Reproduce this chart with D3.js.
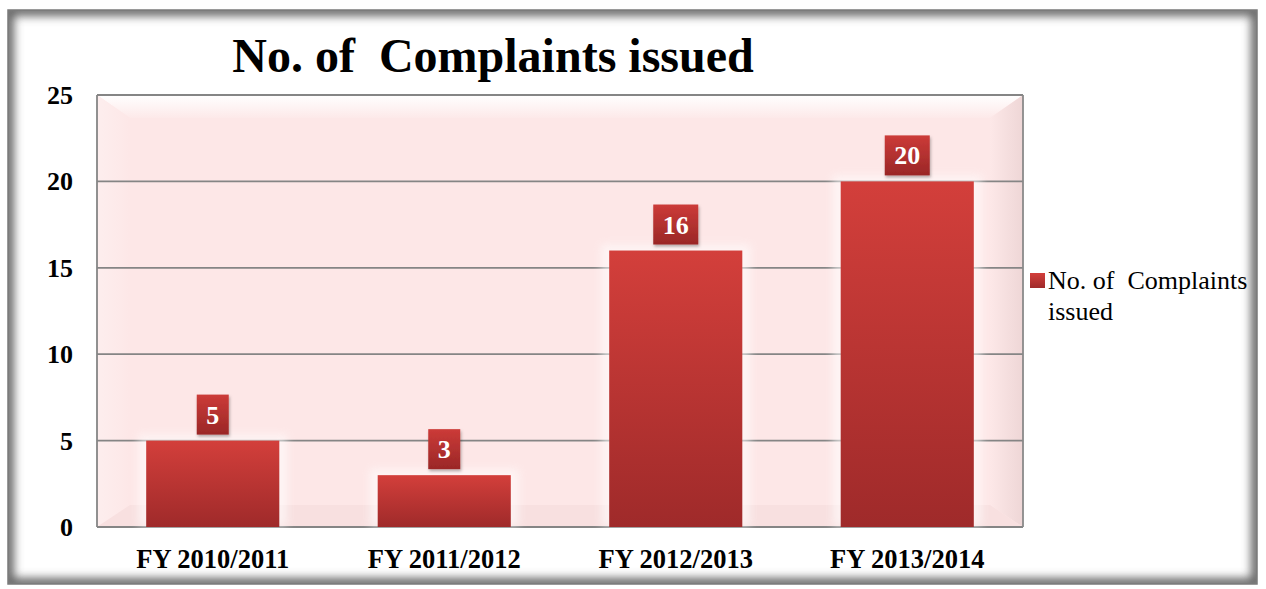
<!DOCTYPE html>
<html>
<head>
<meta charset="utf-8">
<script src="https://cdn.jsdelivr.net/npm/d3@7/dist/d3.min.js"></script>
<style>
  body { margin: 0; background: #fff; }
  svg { display: block; font-family: "Liberation Serif", "Times New Roman", serif; }
</style>
</head>
<body>
<svg id="chart" width="1266" height="589"></svg>
<script>
// data
var categories = ["FY 2010/2011", "FY 2011/2012", "FY 2012/2013", "FY 2013/2014"];
var complaints = [5, 3, 16, 20];
var yTicks = [0, 5, 10, 15, 20, 25];
var seriesName = "No. of  Complaints issued";

var svg = d3.select("#chart"),
    width = +svg.attr("width"),
    height = +svg.attr("height");

var plot = { left: 97, top: 95, right: 1023, bottom: 527 };
var frame = { x: 8, y: 10, w: 1249, h: 574 };

var defs = svg.append("defs");

// bar gradient
var barGrad = defs.append("linearGradient").attr("id", "barGrad")
  .attr("x1", 0).attr("y1", 0).attr("x2", 0).attr("y2", 1);
barGrad.append("stop").attr("offset", "0%").attr("stop-color", "#d33f3b");
barGrad.append("stop").attr("offset", "100%").attr("stop-color", "#9f2a2a");

var lblGrad = defs.append("linearGradient").attr("id", "lblGrad")
  .attr("x1", 0).attr("y1", 0).attr("x2", 0).attr("y2", 1);
lblGrad.append("stop").attr("offset", "0%").attr("stop-color", "#cc3b38");
lblGrad.append("stop").attr("offset", "100%").attr("stop-color", "#9a2727");

var topWall = defs.append("linearGradient").attr("id", "topWall")
  .attr("x1", 0).attr("y1", 0).attr("x2", 0).attr("y2", 1);
topWall.append("stop").attr("offset", "0%").attr("stop-color", "#ffffff");
topWall.append("stop").attr("offset", "100%").attr("stop-color", "#fde9e9");

var rightWall = defs.append("linearGradient").attr("id", "rightWall")
  .attr("x1", 0).attr("y1", 0).attr("x2", 1).attr("y2", 0);
rightWall.append("stop").attr("offset", "0%").attr("stop-color", "#fde8e8");
rightWall.append("stop").attr("offset", "100%").attr("stop-color", "#eed6d6");

var leftWall = defs.append("linearGradient").attr("id", "leftWall")
  .attr("x1", 0).attr("y1", 0).attr("x2", 1).attr("y2", 0);
leftWall.append("stop").attr("offset", "0%").attr("stop-color", "#fdeeee");
leftWall.append("stop").attr("offset", "100%").attr("stop-color", "#fde7e7");

defs.append("filter").attr("id", "blur")
  .attr("x", "-10%").attr("y", "-10%").attr("width", "120%").attr("height", "120%")
  .append("feGaussianBlur").attr("stdDeviation", 5);
defs.append("filter").attr("id", "glow")
  .attr("x", "-20%").attr("y", "-20%").attr("width", "140%").attr("height", "140%")
  .append("feGaussianBlur").attr("stdDeviation", 4);
var sh = defs.append("filter").attr("id", "shadow")
  .attr("x", "-30%").attr("y", "-30%").attr("width", "160%").attr("height", "160%");
sh.append("feDropShadow").attr("dx", 1).attr("dy", 2).attr("stdDeviation", 1.5)
  .attr("flood-color", "#000").attr("flood-opacity", 0.3);

defs.append("clipPath").attr("id", "frameClip")
  .append("rect").attr("x", frame.x).attr("y", frame.y).attr("width", frame.w).attr("height", frame.h);

// chart frame with inner shadow
svg.append("rect").attr("x", frame.x).attr("y", frame.y)
  .attr("width", frame.w).attr("height", frame.h).attr("fill", "#fff");
svg.append("g").attr("clip-path", "url(#frameClip)")
  .append("rect").attr("x", frame.x).attr("y", frame.y)
  .attr("width", frame.w).attr("height", frame.h)
  .attr("fill", "none").attr("stroke", "#666").attr("stroke-width", 12)
  .attr("filter", "url(#blur)");
svg.append("rect").attr("x", frame.x).attr("y", frame.y)
  .attr("width", frame.w).attr("height", frame.h)
  .attr("fill", "none").attr("stroke", "#7a7a7a").attr("stroke-width", 1.5);

var x = d3.scaleBand().domain(categories).range([plot.left, plot.right]).padding(0);
var y = d3.scaleLinear().domain([0, 25]).range([plot.bottom, plot.top]);
var barW = x.bandwidth() * 0.575;

// plot area back wall (3D look)
var g = svg.append("g");
var dL = 33, dT = 23, dR = 33, dB = 22;
g.append("rect").attr("x", plot.left).attr("y", plot.top)
  .attr("width", plot.right - plot.left).attr("height", plot.bottom - plot.top)
  .attr("fill", "#fde7e7");
g.append("polygon").attr("fill", "url(#topWall)").attr("points", [
  [plot.left, plot.top], [plot.right, plot.top],
  [plot.right - dR, plot.top + dT], [plot.left + dL, plot.top + dT]].join(" "));
g.append("polygon").attr("fill", "url(#leftWall)").attr("points", [
  [plot.left, plot.top], [plot.left + dL, plot.top + dT],
  [plot.left + dL, plot.bottom - dB], [plot.left, plot.bottom]].join(" "));
g.append("polygon").attr("fill", "url(#rightWall)").attr("points", [
  [plot.right, plot.top], [plot.right - dR, plot.top + dT],
  [plot.right - dR, plot.bottom - dB], [plot.right, plot.bottom]].join(" "));
g.append("polygon").attr("fill", "#f8e0e0").attr("points", [
  [plot.left, plot.bottom], [plot.left + dL, plot.bottom - dB],
  [plot.right - dR, plot.bottom - dB], [plot.right, plot.bottom]].join(" "));

// gridlines
g.selectAll(".grid").data(yTicks).enter().append("line")
  .attr("x1", plot.left).attr("x2", plot.right)
  .attr("y1", function(d) { return y(d); }).attr("y2", function(d) { return y(d); })
  .attr("stroke", "#858585").attr("stroke-width", 1.8);
g.append("line").attr("x1", plot.left).attr("x2", plot.left)
  .attr("y1", plot.top).attr("y2", plot.bottom).attr("stroke", "#858585").attr("stroke-width", 1.8);
g.append("line").attr("x1", plot.right).attr("x2", plot.right)
  .attr("y1", plot.top).attr("y2", plot.bottom).attr("stroke", "#8a8a8a").attr("stroke-width", 1.8);

// bars
var bars = svg.append("g").selectAll("g").data(complaints).enter().append("g");
bars.append("rect")
  .attr("x", function(d, i) { return x(categories[i]) + (x.bandwidth() - barW) / 2 - 8; })
  .attr("y", function(d) { return y(d) - 6; })
  .attr("width", barW + 16)
  .attr("height", function(d) { return y(0) - y(d) + 6; })
  .attr("fill", "#fff").attr("opacity", 0.55).attr("filter", "url(#glow)");
bars.append("rect")
  .attr("x", function(d, i) { return x(categories[i]) + (x.bandwidth() - barW) / 2; })
  .attr("y", function(d) { return y(d); })
  .attr("width", barW)
  .attr("height", function(d) { return y(0) - y(d); })
  .attr("fill", "url(#barGrad)");

// value labels in boxes
bars.each(function(d, i) {
  var cx = x(categories[i]) + x.bandwidth() / 2;
  var bw = String(d).length > 1 ? 45 : 32;
  var sel = d3.select(this);
  sel.append("rect").attr("x", cx - bw / 2).attr("y", y(d) - 46)
    .attr("width", bw).attr("height", 40)
    .attr("fill", "url(#lblGrad)").attr("filter", "url(#shadow)");
  sel.append("text").attr("x", cx).attr("y", y(d) - 17)
    .attr("text-anchor", "middle").attr("fill", "#fff")
    .attr("font-weight", "bold").attr("font-size", "26px").text(d);
});

// y axis labels
svg.append("g").selectAll("text").data(yTicks).enter().append("text")
  .attr("x", 73).attr("y", function(d) { return y(d) + 9; })
  .attr("text-anchor", "end").attr("font-weight", "bold").attr("font-size", "26px")
  .attr("fill", "#000").text(function(d) { return d; });

// x axis labels
svg.append("g").selectAll("text").data(categories).enter().append("text")
  .attr("x", function(d) { return x(d) + x.bandwidth() / 2; })
  .attr("y", 568)
  .attr("text-anchor", "middle").attr("font-weight", "bold").attr("font-size", "26.5px")
  .attr("fill", "#000").text(function(d) { return d; });

// title
svg.append("text").attr("x", 493).attr("y", 72)
  .attr("text-anchor", "middle").attr("font-weight", "bold").attr("font-size", "48px")
  .style("white-space", "pre")
  .text(seriesName);

// legend
var lg = svg.append("g").attr("transform", "translate(1030,273)");
lg.append("rect").attr("width", 15).attr("height", 15).attr("fill", "url(#barGrad)");
var lt = lg.append("text").attr("x", 19).attr("y", 16)
  .attr("font-family", "'Liberation Serif', serif")
  .attr("font-size", "26px").attr("fill", "#000")
  .style("white-space", "pre");
lt.append("tspan").attr("x", 18).text("No. of  Complaints");
lt.append("tspan").attr("x", 18).attr("dy", 31).text("issued");
</script>
</body>
</html>
